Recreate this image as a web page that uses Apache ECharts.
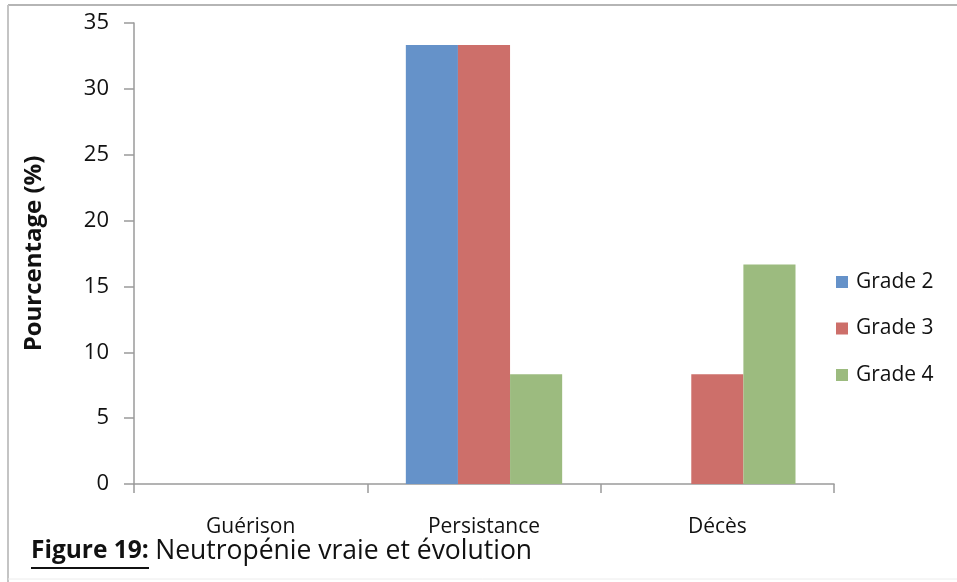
<!DOCTYPE html>
<html>
<head>
<meta charset="utf-8">
<script src="https://cdn.jsdelivr.net/npm/echarts@6/dist/echarts.min.js"></script>
<style>
  html, body { margin: 0; padding: 0; background: #fff; }
  #chart { width: 957px; height: 582px; }
</style>
</head>
<body>
<div id="chart"></div>
<script>
// Outcome categories and percentages per neutropenia grade
const categories = ['Guérison', 'Persistance', 'Décès'];
const grade2 = [0, 33.33, 0];
const grade3 = [0, 33.33, 8.33];
const grade4 = [0, 8.33, 16.67];
const seriesNames = ['Grade 2', 'Grade 3', 'Grade 4'];
const yTicks = { min: 0, max: 35, interval: 5 };

const FONT = '"Open Sans", Lato, "Noto Sans", sans-serif';
const colors = ['#6592c9', '#cd6f6a', '#9cbb7f'];

const chart = echarts.init(document.getElementById('chart'), null, { renderer: 'canvas' });

const mkSeries = (name, data, color) => ({
  name: name,
  type: 'bar',
  data: data,
  barGap: '0%',
  barCategoryGap: '33%',
  itemStyle: { color: color },
  emphasis: { disabled: true }
});

chart.setOption({
  animation: false,
  backgroundColor: '#ffffff',
  textStyle: { fontFamily: FONT },
  grid: { left: 134, right: 123, top: 23, bottom: 98, containLabel: false },
  legend: {
    orient: 'vertical',
    left: 831,
    top: 265,
    itemWidth: 12,
    itemHeight: 12,
    itemGap: 22.5,
    icon: 'rect',
    data: seriesNames,
    textStyle: { fontFamily: FONT, fontSize: 21, color: '#111', lineHeight: 24, padding: [0, 0, 0, 3] }
  },
  xAxis: {
    type: 'category',
    data: categories,
    axisLine: { lineStyle: { color: '#9a9a9a', width: 1.5 } },
    axisTick: { show: true, length: 9, lineStyle: { color: '#9a9a9a', width: 1.5 } },
    axisLabel: { fontFamily: FONT, fontSize: 21, color: '#111', margin: 33 }
  },
  yAxis: {
    type: 'value',
    min: yTicks.min,
    max: yTicks.max,
    interval: yTicks.interval,
    name: 'Pourcentage (%)',
    nameLocation: 'middle',
    nameGap: 88,
    nameRotate: 90,
    nameTextStyle: { fontFamily: FONT, fontSize: 24, fontWeight: 'bold', color: '#111' },
    axisLine: { show: true, lineStyle: { color: '#9a9a9a', width: 1.5 } },
    axisTick: { show: true, length: 10, lineStyle: { color: '#9a9a9a', width: 1.5 } },
    axisLabel: { fontFamily: FONT, fontSize: 22, color: '#111', margin: 25 },
    splitLine: { show: false }
  },
  series: [
    mkSeries(seriesNames[0], grade2, colors[0]),
    mkSeries(seriesNames[1], grade3, colors[1]),
    mkSeries(seriesNames[2], grade4, colors[2])
  ],
  graphic: [
    // outer frame: top and left edges, faint bottom
    { type: 'line', shape: { x1: 8, y1: 5, x2: 957, y2: 5 }, style: { stroke: '#b5b5b5', lineWidth: 2 } },
    { type: 'line', shape: { x1: 8, y1: 5, x2: 8, y2: 582 }, style: { stroke: '#c4c4c4', lineWidth: 2 } },
    { type: 'line', shape: { x1: 8, y1: 579, x2: 957, y2: 579 }, style: { stroke: '#ececec', lineWidth: 1 } },
    // figure caption
    {
      type: 'text',
      left: 31,
      top: 538,
      style: {
        text: '{a|Figure 19}{b|: }{c|Neutropénie vraie et évolution}',
        rich: {
          a: { fontFamily: FONT, fontSize: 24.5, fontWeight: 'bold', fill: '#111', lineHeight: 32 },
          b: { fontFamily: FONT, fontSize: 24.5, fontWeight: 'bold', fill: '#111', lineHeight: 32 },
          c: { fontFamily: FONT, fontSize: 26.5, fill: '#111', lineHeight: 32 }
        }
      }
    },
    { type: 'line', shape: { x1: 31, y1: 568, x2: 149, y2: 568 }, style: { stroke: '#111', lineWidth: 2 } }
  ]
});
</script>
</body>
</html>
